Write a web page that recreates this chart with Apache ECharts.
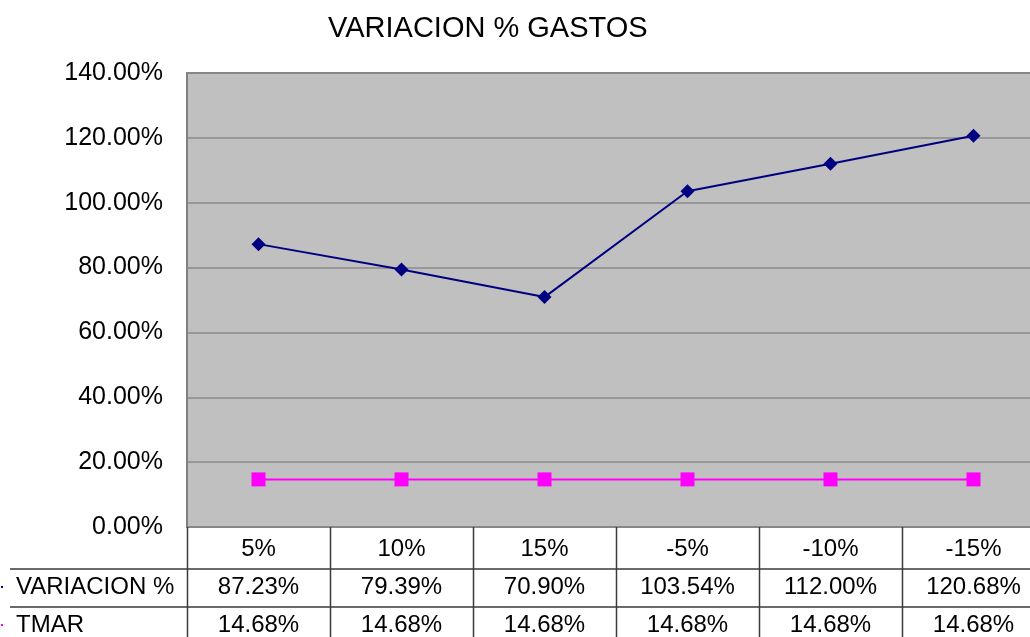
<!DOCTYPE html>
<html>
<head>
<meta charset="utf-8">
<script src="https://cdn.jsdelivr.net/npm/echarts@6/dist/echarts.min.js"></script>
<style>
  html, body { margin: 0; padding: 0; background: #fff; overflow: hidden; }
  /* the last table column runs a little past the window's right edge */
  #chart { width: 1045px; height: 637px; }
</style>
</head>
<body>
<div id="chart"></div>
<script>
// Scenario categories and the two series shown in the chart and its data table
const categories = ['5%', '10%', '15%', '-5%', '-10%', '-15%'];
const variacion = [87.23, 79.39, 70.90, 103.54, 112.00, 120.68];
const tmar = [14.68, 14.68, 14.68, 14.68, 14.68, 14.68];
const seriesNames = ['VARIACION %', 'TMAR'];
const seriesColors = ['#000080', '#ff00ff'];
const yTicks = { min: 0, max: 140, interval: 20 };

const FONT = '"Liberation Sans", Arial, sans-serif';
const chart = echarts.init(document.getElementById('chart'), null, { renderer: 'canvas' });

const pct = v => v.toFixed(2) + '%';

chart.setOption({
  animation: false,
  backgroundColor: '#ffffff',
  textStyle: { fontFamily: FONT },
  title: {
    text: 'VARIACION % GASTOS',
    left: 323, top: 9,
    textStyle: { fontFamily: FONT, fontSize: 29, fontWeight: 'normal', color: '#000' }
  },
  grid: {
    left: 187, top: 73, right: 0, height: 454,
    show: true, backgroundColor: '#c0c0c0', borderColor: '#808080', borderWidth: 2
  },
  xAxis: {
    type: 'category', data: categories, boundaryGap: true,
    axisLine: { show: false }, axisTick: { show: false }, axisLabel: { show: false }
  },
  yAxis: {
    type: 'value', min: yTicks.min, max: yTicks.max, interval: yTicks.interval,
    axisLine: { show: false }, axisTick: { show: false },
    axisLabel: { formatter: v => pct(v), fontSize: 25, color: '#000', margin: 24, fontFamily: FONT },
    splitLine: { lineStyle: { color: '#8a8a8a', width: 1.5 } }
  },
  series: [
    {
      name: seriesNames[0], type: 'line', data: variacion,
      symbol: 'diamond', symbolSize: 14,
      lineStyle: { color: seriesColors[0], width: 2 },
      itemStyle: { color: seriesColors[0] }
    },
    {
      name: seriesNames[1], type: 'line', data: tmar,
      symbol: 'rect', symbolSize: 14,
      lineStyle: { color: seriesColors[1], width: 2 },
      itemStyle: { color: seriesColors[1] }
    }
  ]
});

// Data table beneath the plot, aligned with the category bands
function drawTable() {
  const x0 = chart.convertToPixel({ xAxisIndex: 0 }, 0);
  const x1 = chart.convertToPixel({ xAxisIndex: 0 }, 1);
  const band = x1 - x0;
  const yTop = chart.convertToPixel({ yAxisIndex: 0 }, 0);
  const rowH = [42, 38, 38];
  const rowTop = [yTop, yTop + rowH[0], yTop + rowH[0] + rowH[1]];
  const lineColor = '#3a3a3a';
  const els = [];
  const bottom = 637;
  const right = chart.getWidth();

  // vertical separators
  for (let i = 0; i < categories.length; i++) {
    const xl = Math.round(x0 - band / 2 + i * band) + 0.5;
    els.push({ type: 'line', shape: { x1: xl, y1: yTop, x2: xl, y2: bottom },
      style: { stroke: lineColor, lineWidth: 1.5 } });
  }
  // horizontal separators
  [rowTop[1], rowTop[2]].forEach(y => {
    els.push({ type: 'line', shape: { x1: 10, y1: y, x2: right, y2: y },
      style: { stroke: lineColor, lineWidth: 1.5 } });
  });

  const txt = (x, y, s, align) => ({
    type: 'text', x, y,
    style: { text: s, fontSize: 24, fontFamily: FONT, fill: '#000',
      align: align || 'center', verticalAlign: 'middle' }
  });

  const rows = [variacion, tmar];
  categories.forEach((c, i) => {
    const cx = chart.convertToPixel({ xAxisIndex: 0 }, i);
    els.push(txt(cx, rowTop[0] + rowH[0] / 2 + 1, c));
    rows.forEach((r, k) => {
      els.push(txt(cx, rowTop[k + 1] + rowH[k + 1] / 2 - 1, pct(r[i])));
    });
  });
  // row headers with legend keys
  seriesNames.forEach((n, k) => {
    const yc = rowTop[k + 1] + rowH[k + 1] / 2 - 1;
    els.push({ type: 'rect', shape: { x: 1, y: yc - 1, width: 2, height: 2 },
      style: { fill: seriesColors[k] } });
    els.push(txt(16, yc, n, 'left'));
  });

  chart.setOption({ graphic: { elements: els } });
}
drawTable();
</script>
</body>
</html>
